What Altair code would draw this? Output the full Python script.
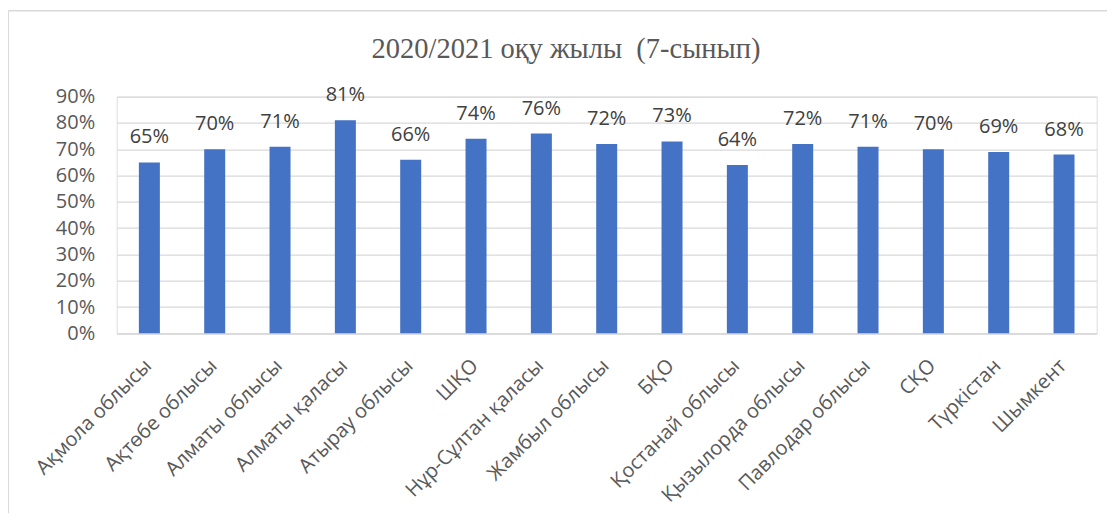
import altair as alt
import pandas as pd

regions = ["Ақмола облысы", "Ақтөбе облысы", "Алматы облысы", "Алматы қаласы",
           "Атырау облысы", "ШҚО", "Нұр-Сұлтан қаласы", "Жамбыл облысы", "БҚО",
           "Қостанай облысы", "Қызылорда облысы", "Павлодар облысы", "СҚО",
           "Түркістан", "Шымкент"]
values = [0.65, 0.70, 0.71, 0.81, 0.66, 0.74, 0.76, 0.72, 0.73, 0.64, 0.72, 0.71, 0.70, 0.69, 0.68]
y_ticks = [0, 0.1, 0.2, 0.3, 0.4, 0.5, 0.6, 0.7, 0.8, 0.9]
title_text = "2020/2021 оқу жылы \u00a0(7-сынып)"

df = pd.DataFrame({"region": regions, "value": values})

W = 980
H = 236.6
FONT = "Open Sans"
GREY = "#595959"

x = alt.X("region:N", sort=regions, title=None,
          scale=alt.Scale(paddingInner=0, paddingOuter=0),
          axis=alt.Axis(labelAngle=-45, labelFont=FONT, labelFontSize=20,
                        labelColor=GREY, ticks=False, domainColor="#d9d9d9",
                        domainWidth=1.5, labelPadding=22, labelOffset=-8,
                        labelLimit=300, labelOverlap=False))
y = alt.Y("value:Q", title=None,
          scale=alt.Scale(domain=[0, 0.9], nice=False),
          axis=alt.Axis(values=y_ticks, format=".0%", labelFont=FONT,
                        labelFontSize=20, labelColor=GREY, ticks=False,
                        domain=False, gridColor="#d9d9d9", gridWidth=1.3,
                        labelPadding=22, labelOverlap=False, labelFlush=False))

base = alt.Chart(df).encode(x=x, y=y)
bars = base.mark_bar(size=21, color="#4472C4")
labels = base.mark_text(font=FONT, fontSize=20, color="#404040",
                        baseline="alphabetic", dy=-19).encode(
    text=alt.Text("value:Q", format=".0%"))

one = pd.DataFrame({"title": [title_text]})
title = alt.Chart(one).mark_text(font="Liberation Serif", fontSize=28.5,
                                 color=GREY, baseline="alphabetic",
                                 align="center").encode(
    x=alt.value(449.3), y=alt.value(-38.7), text="title:N")

left_edge = alt.Chart(one).mark_rule(color="#d9d9d9", strokeWidth=1.5).encode(
    x=alt.value(-108.5), y=alt.value(-86), y2=alt.value(H + 300))
top_edge = alt.Chart(one).mark_rule(color="#d9d9d9", strokeWidth=1.5).encode(
    y=alt.value(-86), x=alt.value(-108.5), x2=alt.value(W + 200))

chart = alt.layer(bars, labels, title, left_edge, top_edge).properties(
    width=W, height=H,
    autosize=alt.AutoSizeParams(type="none"),
    padding={"left": 108.7, "top": 88.7, "right": 10, "bottom": 180},
).configure_view(stroke=None).configure(background="white")

chart.save("out.html", embed_options={"renderer": "svg", "actions": False})
